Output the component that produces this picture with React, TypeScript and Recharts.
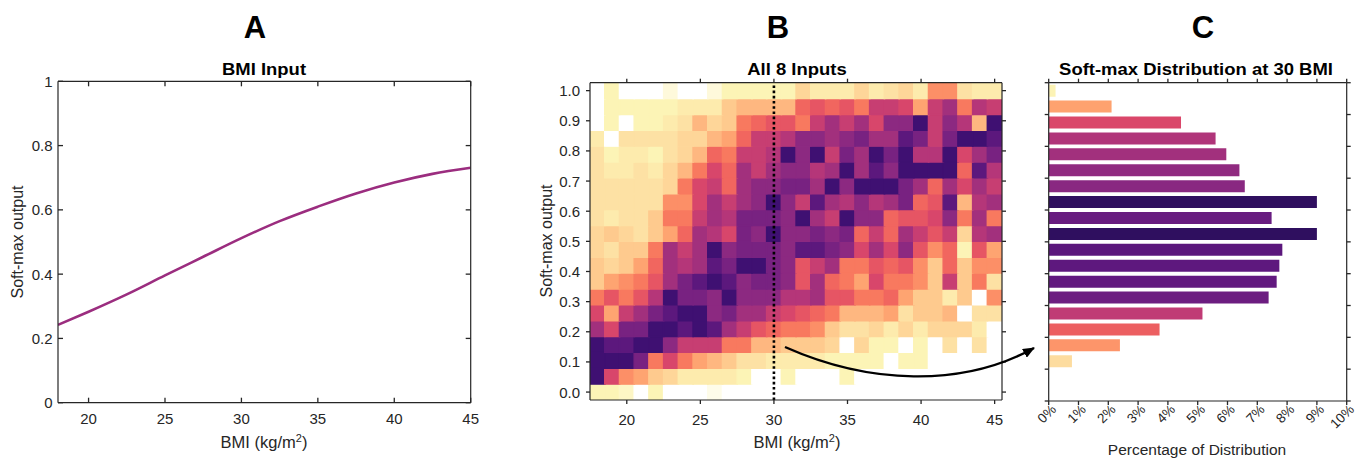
import React from 'react';
import { LineChart, Line, BarChart, Bar, Cell, XAxis, YAxis, ReferenceLine } from 'recharts';

const FONT = '"Liberation Sans", Arial, Helvetica, sans-serif';
const AXIS = '#262626';

// ---------- Panel A: BMI input ----------
const bmiInputX = [18, 20, 22.5, 25, 27.5, 30, 32.5, 35, 37.5, 40, 42.5, 45];
const bmiInputY = [0.242, 0.283, 0.337, 0.396, 0.454, 0.512, 0.565, 0.61, 0.651, 0.685, 0.712, 0.731];
const aXTicks = [20, 25, 30, 35, 40, 45];
const aYTicks = [0, 0.2, 0.4, 0.6, 0.8, 1];

// ---------- Panel B: all 8 inputs heat map ----------
const heatBmi = [18, 19, 20, 21, 22, 23, 24, 25, 26, 27, 28, 29, 30, 31, 32, 33, 34, 35, 36, 37, 38, 39, 40, 41, 42, 43, 44, 45];
const heatBinCount = 20; // soft-max output bins, top row = 1.0, bottom row = 0.0
// density level per cell (0 = empty, 10 = densest), rows from top (1.0) to bottom (0.0)
const heatLevels: number[][] = [
  [0, 1, 0, 0, 0, 0.5, 0, 0, 0.5, 1, 1, 1, 1, 1, 2.5, 1.5, 1.5, 1.5, 2.5, 1.5, 2, 2.5, 1.5, 4.5, 4.5, 2, 1.5, 1.5],
  [0, 1, 1, 1, 1, 1, 1.5, 1.5, 1.5, 3, 3.5, 3.5, 3.5, 3.5, 5.5, 6, 5.5, 6, 5, 7, 7, 6.5, 4, 7, 8, 5, 7.5, 7],
  [0, 1, 0, 1, 1, 1.5, 2, 3.5, 2.5, 3, 5, 5.5, 6, 6, 5, 7, 8, 7, 8, 6.5, 8.5, 8.5, 10, 7, 8.5, 7.5, 3.5, 10],
  [1.5, 0, 2, 2, 2, 2, 2.5, 2.5, 3.5, 4, 5.5, 7, 7, 7.5, 8.5, 8.5, 8, 8.5, 9, 8, 8, 9.5, 9, 7, 9, 10, 10, 9.5],
  [2, 1, 1.5, 1.5, 1, 2, 2.5, 3.5, 5.5, 5, 7, 7, 7.5, 10, 8.5, 10, 7, 9, 8, 10, 9, 10, 7.5, 7.5, 10, 6.5, 8, 9],
  [2, 1.5, 1.5, 2, 1.5, 2.5, 3.5, 5, 6.5, 5.5, 8, 7, 8, 8.5, 8.5, 7.5, 8, 10, 8, 9.5, 8.5, 10, 10, 10, 10, 5.5, 9.5, 7.5],
  [2, 2, 2, 2, 2, 2.5, 5, 6.5, 7, 5.5, 8, 8.5, 8.5, 9, 9, 8, 10, 8.5, 10, 10, 10, 9, 8, 5.5, 8, 6.5, 8, 7],
  [2, 2, 2, 2, 2, 4.5, 4.5, 6.5, 8, 7, 8, 8.5, 10, 8.5, 7, 9.5, 8, 7.5, 8.5, 7.5, 8, 9, 5.5, 6, 9.5, 3.5, 7.5, 8],
  [2, 1.5, 2, 2, 3, 5, 5, 7, 8, 7.5, 9, 9, 9, 8.5, 10, 8, 7, 10, 8.5, 8.5, 5.5, 6, 6, 6.5, 8.5, 5, 8, 5],
  [2.5, 3, 2.5, 2, 3, 4, 5.5, 8, 7.5, 6.5, 9, 8.5, 10, 8.5, 8.5, 9, 8.5, 9, 5.5, 7, 5.5, 8, 7, 6, 7, 2.5, 7.5, 8],
  [2.5, 2, 3, 3, 5, 8, 7, 8, 10, 8.5, 9, 9, 9, 8.5, 9.5, 9.5, 9, 8.5, 6.5, 8, 6.5, 8.5, 6, 4.5, 5.5, 1, 6, 4],
  [3, 2.5, 3, 4, 5.5, 8, 7.5, 8, 9.5, 9, 10, 10, 9, 8.5, 6, 7, 8, 5, 5, 6, 5.5, 6, 4.5, 3, 5.5, 3, 4.5, 4.5],
  [3, 4, 4.5, 5, 6, 8, 9, 9.5, 10, 9.5, 8.5, 9, 9, 8.5, 6, 8, 5.5, 5, 4, 6.5, 5, 5, 4.5, 3, 7, 3, 5, 2],
  [5, 6, 5, 6, 7.5, 10, 9, 9, 8.5, 10, 8.5, 8.5, 8.5, 7.5, 7.5, 8, 6, 6, 5, 5, 5.5, 4, 3, 3, 1.5, 3, 0, 4.5],
  [6.5, 4, 7, 8, 9, 9.5, 10, 10, 8.5, 9, 8, 8, 7, 6.5, 6, 5.5, 5, 3.5, 3.5, 3.5, 4, 2, 3, 3, 3.5, 0, 2, 2],
  [8, 6.5, 9, 9, 10, 10, 9.5, 10, 9.5, 8, 7, 6, 5.5, 5, 5, 4.5, 3, 2, 2, 2.5, 1.5, 2.5, 1.5, 2.5, 2.5, 2.5, 1.5, 0],
  [10, 9.5, 9.5, 10, 10, 8.5, 7, 7, 7, 5, 5, 3.5, 3.5, 3, 3, 3, 2.5, 0, 2.5, 1, 1, 0, 1, 0, 2, 0, 2, 0],
  [10, 10, 10, 9, 5, 6.5, 5, 4, 3.5, 3, 2, 2, 1.5, 1.5, 1.5, 1.5, 1, 1, 1, 1, 0, 1, 1, 0, 0, 0, 0, 0],
  [10, 6.5, 4.5, 4, 3, 2.5, 1.5, 1.5, 1.5, 1.5, 1, 0, 0, 1, 0, 0, 0, 1, 0, 0, 0, 0, 0, 0, 0, 0, 0, 0],
  [1, 1, 0.8, 0, 1, 0, 0, 0, 0.3, 0, 0, 0, 0, 0, 0, 0, 0, 0, 0, 0, 0, 0, 0, 0, 0, 0, 0, 0],
];
const bXTicks = [20, 25, 30, 35, 40, 45];
const bYTicks = [0, 0.1, 0.2, 0.3, 0.4, 0.5, 0.6, 0.7, 0.8, 0.9, 1.0];
const markerBmi = 30;

// ---------- Panel C: soft-max distribution at 30 BMI ----------
const distSlots = [0.975, 0.925, 0.875, 0.825, 0.775, 0.725, 0.675, 0.625, 0.575, 0.525, 0.475, 0.425, 0.375, 0.325, 0.275, 0.225, 0.175, 0.125];
const distPct = [0.23, 2.11, 4.44, 5.6, 5.96, 6.4, 6.58, 9.0, 7.48, 9.0, 7.84, 7.74, 7.65, 7.38, 5.16, 3.72, 2.39, 0.78];
const cXTicks = [0, 1, 2, 3, 4, 5, 6, 7, 8, 9, 10];
const cYTicks = [0, 0.1, 0.2, 0.3, 0.4, 0.5, 0.6, 0.7, 0.8, 0.9, 1.0];

// ---------- colour map (magma) ----------
const MAGMA = ['#000004', '#140e36', '#3b0f70', '#641a80', '#8c2981', '#b73779', '#de4968', '#f7705c', '#fe9f6d', '#fecf92', '#fcfdbf'];
const hexRgb = (h: string) => [1, 3, 5].map((i) => parseInt(h.slice(i, i + 2), 16));
const mix = (a: number[], b: number[], f: number) => a.map((v, i) => v + (b[i] - v) * f);
const toHex = (c: number[]) => '#' + c.map((v) => Math.round(v).toString(16).padStart(2, '0')).join('');
function magma(t: number): number[] {
  const tt = Math.max(0, Math.min(1, t)) * 10;
  const i = Math.min(9, Math.floor(tt));
  return mix(hexRgb(MAGMA[i]), hexRgb(MAGMA[i + 1]), tt - i);
}
const darkColor = (p: number) => toHex(magma(1 - p));
const LEVEL_P = [0, 0.02, 0.06, 0.11, 0.19, 0.28, 0.37, 0.46, 0.55, 0.65, 0.79];
function heatColor(level: number): string {
  if (level <= 0) return '#ffffff';
  if (level < 1) return toHex(mix([255, 255, 255], magma(1 - LEVEL_P[1]), level));
  const i = Math.min(9, Math.floor(level));
  const p = LEVEL_P[i] + (LEVEL_P[i + 1] - LEVEL_P[i]) * (level - i);
  return darkColor(p);
}
const maxPct = Math.max(...distPct);
const distColor = (pct: number) => darkColor((0.83 * pct) / maxPct);

// ---------- tables for the library ----------
const lineData = bmiInputX.map((x, i) => ({ bmi: x, y: bmiInputY[i] }));
const binH = 1 / (heatBinCount - 1);
const heatData = heatBmi.map((bmi) => {
  const row: Record<string, number> = { bmi, base: -binH / 2 };
  for (let k = 0; k < heatBinCount; k++) row['r' + k] = binH;
  return row;
});
const stackOrder = heatLevels.map((_, k) => heatBinCount - 1 - k); // bottom row first
const distData = distSlots.map((y, i) => ({ y, pct: distPct[i] }));

// ---------- tick renderer: tick on this edge + matching tick on the opposite edge + label ----------
function AxisTick(props: any) {
  const { x, y, payload, side, len, inward, opp, fmt, gap, fs, rot } = props;
  const d = inward ? -1 : 1;
  const lines: any[] = [];
  if (side === 'bottom') {
    lines.push(<line key="a" x1={x} y1={y} x2={x} y2={y + d * len} />);
    lines.push(<line key="b" x1={x} y1={y - opp} x2={x} y2={y - opp - d * len} />);
  } else {
    lines.push(<line key="a" x1={x} y1={y} x2={x - d * len} y2={y} />);
    lines.push(<line key="b" x1={x + opp} y1={y} x2={x + opp + d * len} y2={y} />);
  }
  let label: any = null;
  if (fmt) {
    const txt = fmt(payload.value);
    if (rot) {
      label = (
        <text transform={`translate(${x + 5},${y + 6}) rotate(-45)`} textAnchor="end" dominantBaseline="central"
          fill={AXIS} stroke="none" fontSize={fs} fontFamily={FONT}>{txt}</text>
      );
    } else if (side === 'bottom') {
      label = <text x={x} y={y + gap} textAnchor="middle" fill={AXIS} stroke="none" fontSize={fs} fontFamily={FONT}>{txt}</text>;
    } else {
      label = <text x={x - gap} y={y} textAnchor="end" dominantBaseline="central" fill={AXIS} stroke="none" fontSize={fs} fontFamily={FONT}>{txt}</text>;
    }
  }
  return (
    <g>
      <g stroke={AXIS} strokeWidth={1.3} fill="none">{lines}</g>
      {label}
    </g>
  );
}

const axisLineStyle = { stroke: AXIS, strokeWidth: 1.2 };
const axisCommon = { tickLine: false, tickSize: 0, tickMargin: 0, interval: 0 as const, axisLine: axisLineStyle, allowDataOverflow: true };
const edgeAxis = { tickLine: false, tick: false, axisLine: axisLineStyle };
const fmtPlain = (v: number) => String(v);
const fmtOne = (v: number) => v.toFixed(1);
const fmtPct = (v: number) => `${v}%`;

function Stretch({ x, y, sx, children }: any) {
  return <g transform={`translate(${x},${y}) scale(${sx},1)`}>{children}</g>;
}

// plot sizes that follow from the margins below
const A_W = 412.7, A_H = 321.4;
const B_W = 412, B_H = 317.3;
const C_W = 298, C_H = 318.3;

export default function App() {
  return (
    <div style={{ position: 'absolute', left: 0, top: 0, width: 1364, height: 459, background: '#fff', fontFamily: FONT, overflow: 'hidden' }}>
      {/* Panel A */}
      <div style={{ position: 'absolute', left: 0, top: 0 }}>
        <LineChart width={480} height={459} data={lineData} margin={{ top: 80.3, right: 8.3, bottom: 26.3, left: 13 }}>
          <XAxis xAxisId="top" orientation="top" height={1} {...edgeAxis} />
          <YAxis yAxisId="right" orientation="right" width={1} {...edgeAxis} />
          <XAxis dataKey="bmi" type="number" domain={[18, 45]} ticks={aXTicks} height={30} {...axisCommon}
            tick={<AxisTick side="bottom" len={5} inward opp={A_H} fmt={fmtPlain} gap={21} fs={15} />} />
          <YAxis type="number" domain={[0, 1]} ticks={aYTicks} width={45} {...axisCommon}
            tick={<AxisTick side="left" len={5} inward opp={A_W} fmt={fmtPlain} gap={5.5} fs={15} />} />
          <Line type="monotone" dataKey="y" stroke="#9b2d7f" strokeWidth={2.6} dot={false} isAnimationActive={false} />
        </LineChart>
      </div>

      {/* Panel B */}
      <div style={{ position: 'absolute', left: 500, top: 0 }}>
        <BarChart width={520} height={459} data={heatData} margin={{ top: 81.7, right: 17, bottom: 29, left: 45 }}
          barCategoryGap={0} barGap={0}>
          <Bar dataKey="base" stackId="h" fill="none" isAnimationActive={false} />
          {stackOrder.map((k) => (
            <Bar key={'r' + k} dataKey={'r' + k} stackId="h" isAnimationActive={false}>
              {heatBmi.map((b, j) => {
                const c = heatColor(heatLevels[k][j]);
                return <Cell key={b} fill={c} stroke={c} strokeWidth={1.4} />;
              })}
            </Bar>
          ))}
          <XAxis xAxisId="top" orientation="top" height={1} {...edgeAxis} />
          <YAxis yAxisId="right" orientation="right" width={1} {...edgeAxis} />
          <XAxis dataKey="bmi" type="number" domain={[17.5, 45.5]} ticks={bXTicks} height={30} {...axisCommon}
            tick={<AxisTick side="bottom" len={4} opp={B_H} fmt={fmtPlain} gap={24.5} fs={15} />} />
          <YAxis type="number" domain={[-binH / 2, 1 + binH / 2]} ticks={bYTicks} width={45} {...axisCommon}
            tick={<AxisTick side="left" len={4} opp={B_W} fmt={fmtOne} gap={10} fs={15} />} />
          <ReferenceLine x={markerBmi} stroke="#000" strokeWidth={2.6} strokeDasharray="2.6 2.6" />
        </BarChart>
      </div>

      {/* Panel C */}
      <div style={{ position: 'absolute', left: 1000, top: 0 }}>
        <BarChart layout="vertical" width={364} height={459} data={distData}
          margin={{ top: 81.7, right: 16.3, bottom: 18, left: 47.7 }}>
          <XAxis xAxisId="top" orientation="top" height={1} type="number" {...edgeAxis} />
          <YAxis yAxisId="right" orientation="right" width={1} type="number" {...edgeAxis} />
          <XAxis type="number" domain={[0, 10]} ticks={cXTicks} height={40} {...axisCommon}
            tick={<AxisTick side="bottom" len={4} opp={C_H} fmt={fmtPct} rot fs={13.5} />} />
          <YAxis dataKey="y" type="number" domain={[0, 1]} ticks={cYTicks} width={1} reversed {...axisCommon}
            tick={<AxisTick side="left" len={4} opp={C_W} />} />
          <Bar dataKey="pct" barSize={12} isAnimationActive={false}>
            {distData.map((d) => (
              <Cell key={d.y} fill={distColor(d.pct)} />
            ))}
          </Bar>
        </BarChart>
      </div>

      {/* Titles, axis labels and arrow */}
      <svg width={1364} height={459} style={{ position: 'absolute', left: 0, top: 0, pointerEvents: 'none' }}>
        <defs>
          <marker id="arrowHead" markerUnits="userSpaceOnUse" markerWidth={12} markerHeight={10} refX={11} refY={5} orient="auto">
            <path d="M0,0 L12,5 L0,10 Z" fill="#000" />
          </marker>
        </defs>
        <g fontFamily={FONT} fill="#000" fontWeight="bold">
          <text x={255} y={38} textAnchor="middle" fontSize={31}>A</text>
          <text x={778} y={38} textAnchor="middle" fontSize={31}>B</text>
          <text x={1203} y={38} textAnchor="middle" fontSize={31}>C</text>
          <Stretch x={264} y={74.5} sx={1.12}>
            <text x={0} y={0} textAnchor="middle" fontSize={16.5}>BMI Input</text>
          </Stretch>
          <Stretch x={797} y={75} sx={1.12}>
            <text x={0} y={0} textAnchor="middle" fontSize={16.5}>All 8 Inputs</text>
          </Stretch>
          <Stretch x={1196} y={75} sx={1.12}>
            <text x={0} y={0} textAnchor="middle" fontSize={16.5}>Soft-max Distribution at 30 BMI</text>
          </Stretch>
        </g>
        <g fontFamily={FONT} fill={AXIS} fontSize={16}>
          <text transform="translate(22.6,242) rotate(-90)" textAnchor="middle">Soft-max output</text>
          <text transform="translate(551.6,241) rotate(-90)" textAnchor="middle">Soft-max output</text>
          <text x={264} y={448} textAnchor="middle" fontSize={16.5}>
            BMI (kg/m<tspan dy={-6} fontSize={11}>2</tspan><tspan dy={6}>)</tspan>
          </text>
          <text x={797} y={448} textAnchor="middle" fontSize={16.5}>
            BMI (kg/m<tspan dy={-6} fontSize={11}>2</tspan><tspan dy={6}>)</tspan>
          </text>
          <text x={1197} y={455} textAnchor="middle" fontSize={15.5}>Percentage of Distribution</text>
        </g>
        <path d="M785,347 C868,384 962,388 1034,348" fill="none" stroke="#000" strokeWidth={2.4} markerEnd="url(#arrowHead)" />
      </svg>
    </div>
  );
}
